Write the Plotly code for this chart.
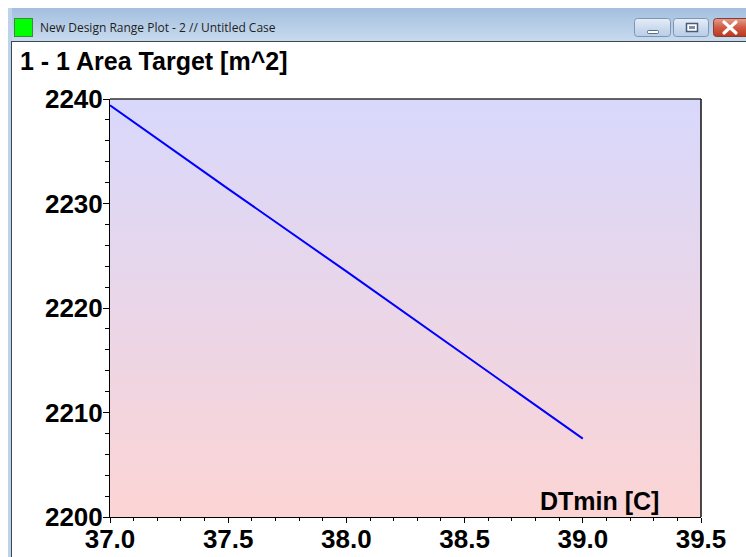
import base64
import plotly.graph_objects as go

# ---- data ----
dtmin = [37.0, 37.5, 38.0, 38.5, 39.0]
area_target = [2239.4, 2231.4, 2223.5, 2215.5, 2207.5]
x_ticks = [37.0, 37.5, 38.0, 38.5, 39.0, 39.5]
x_tick_labels = ["37.0", "37.5", "38.0", "38.5", "39.0", "39.5"]
y_ticks = [2200, 2210, 2220, 2230, 2240]
y_tick_labels = ["2200", "2210", "2220", "2230", "2240"]

W, H = 746, 557
L, R, T, B = 110, 701, 99, 517


def px(p):
    return (p - L) / (R - L)


def py(p):
    return (B - p) / (B - T)


# ---- decorative window chrome + plot-area gradient as one SVG background ----
svg = f"""<svg xmlns='http://www.w3.org/2000/svg' width='{W}' height='{H}' viewBox='0 0 {W} {H}'>
<defs>
<linearGradient id='pg' x1='0' y1='0' x2='0' y2='1'>
<stop offset='0' stop-color='#d8d8fc'/><stop offset='1' stop-color='#fcd4d4'/></linearGradient>
<linearGradient id='tb' x1='0' y1='0' x2='0' y2='1'>
<stop offset='0' stop-color='#a3bfdf'/><stop offset='1' stop-color='#c9dbee'/></linearGradient>
<linearGradient id='bt' x1='0' y1='0' x2='0' y2='1'>
<stop offset='0' stop-color='#e6eef8'/><stop offset='0.5' stop-color='#cddcef'/><stop offset='1' stop-color='#b8cde6'/></linearGradient>
<linearGradient id='cl' x1='0' y1='0' x2='0' y2='1'>
<stop offset='0' stop-color='#e4a08f'/><stop offset='0.5' stop-color='#cf5a43'/><stop offset='1' stop-color='#b8391f'/></linearGradient>
</defs>
<rect x='0' y='0' width='{W}' height='{H}' fill='#ffffff'/>
<rect x='8' y='8' width='{W}' height='34' fill='url(#tb)'/>
<rect x='8' y='8' width='4' height='{H}' fill='#bcd3ea'/>
<rect x='11' y='41' width='{W}' height='1' fill='#3c4650'/>
<rect x='11' y='41' width='1' height='{H}' fill='#3c4650'/>
<rect x='14.5' y='18.5' width='18' height='18' fill='#00ff00' stroke='#3a8a3a' stroke-width='1'/>
<rect x='634.5' y='18.5' width='36' height='18' rx='3' fill='url(#bt)' stroke='#7f95b4'/>
<rect x='647.5' y='30.5' width='11' height='3' rx='1' fill='#ffffff' stroke='#5a6a80'/>
<rect x='673.5' y='18.5' width='35' height='18' rx='3' fill='url(#bt)' stroke='#7f95b4'/>
<rect x='686.5' y='23.5' width='11' height='8' fill='#ffffff' stroke='#4a5a70' stroke-width='1.5'/>
<rect x='689' y='26' width='6' height='3' fill='#7d8ea6'/>
<rect x='713.5' y='18.5' width='45' height='18' rx='3' fill='url(#cl)' stroke='#8a3a2e'/>
<path d='M724 22 L736 33 M736 22 L724 33' stroke='#ffffff' stroke-width='3.2' stroke-linecap='round'/>
<rect x='{L}' y='{T}' width='{R - L}' height='{B - T}' fill='url(#pg)'/>
</svg>"""
svg_uri = "data:image/svg+xml;base64," + base64.b64encode(svg.encode()).decode()

fig = go.Figure()
fig.add_trace(go.Scatter(x=dtmin, y=area_target, mode="lines",
                         line=dict(color="#0000ff", width=2), showlegend=False,
                         hoverinfo="skip"))

annotations = [
    dict(text="New Design Range Plot - 2 // Untitled Case", xref="paper", yref="paper",
         x=px(38), y=py(27.5), xanchor="left", yanchor="middle", showarrow=False,
         font=dict(family="Open Sans, Noto Sans", size=12, color="#1e1e1e")),
    dict(text="1 - 1 Area Target [m^2]", xref="paper", yref="paper",
         x=px(18), y=py(60.5), xanchor="left", yanchor="middle", showarrow=False,
         font=dict(family="Liberation Sans, Arial", size=25, color="#000000", weight="bold")),
    dict(text="DTmin [C]", xref="paper", yref="paper",
         x=px(599), y=py(501), xanchor="center", yanchor="middle", showarrow=False,
         font=dict(family="Liberation Sans, Arial", size=25, color="#000000", weight="bold")),
]

tickfont = dict(family="Liberation Sans, Arial", size=26, color="#000000", weight="bold")

fig.update_layout(
    width=W, height=H, autosize=False,
    margin=dict(l=L, r=W - R, t=T, b=H - B, pad=0, autoexpand=False),
    paper_bgcolor="#ffffff", plot_bgcolor="rgba(0,0,0,0)",
    images=[dict(source=svg_uri, xref="paper", yref="paper",
                 x=px(0), y=py(0), sizex=px(W) - px(0), sizey=py(0) - py(H),
                 xanchor="left", yanchor="top", sizing="stretch", layer="below")],
    annotations=annotations, showlegend=False,
    xaxis=dict(range=[37.0, 39.5], tickmode="array", tickvals=x_ticks, ticktext=x_tick_labels,
               ticks="outside", ticklen=5, tickwidth=1, tickcolor="#000000",
               minor=dict(dtick=0.1, ticks="outside", ticklen=3, tickcolor="#000000"),
               showline=True, linecolor="#000000", linewidth=1, mirror=False,
               showgrid=False, zeroline=False, tickfont=tickfont, ticklabelstandoff=-6,
               automargin=False),
    yaxis=dict(range=[2200, 2240], tickmode="array", tickvals=y_ticks, ticktext=y_tick_labels,
               ticks="outside", ticklen=6, tickwidth=1, tickcolor="#000000",
               minor=dict(dtick=2, ticks="outside", ticklen=4, tickcolor="#000000"),
               showline=True, linecolor="#000000", linewidth=1, mirror=False,
               showgrid=False, zeroline=False, tickfont=tickfont, ticklabelstandoff=-5,
               automargin=False),
)
# top and right borders of the plot area
fig.add_shape(type="line", xref="paper", yref="paper", x0=0, x1=1, y0=1, y1=1,
              line=dict(color="#333333", width=1.5))
fig.add_shape(type="line", xref="paper", yref="paper", x0=1, x1=1, y0=0, y1=1,
              line=dict(color="#111111", width=1.5))

fig.write_html("out.html", config={"displayModeBar": False},
               post_script="document.body.style.margin='0';")
